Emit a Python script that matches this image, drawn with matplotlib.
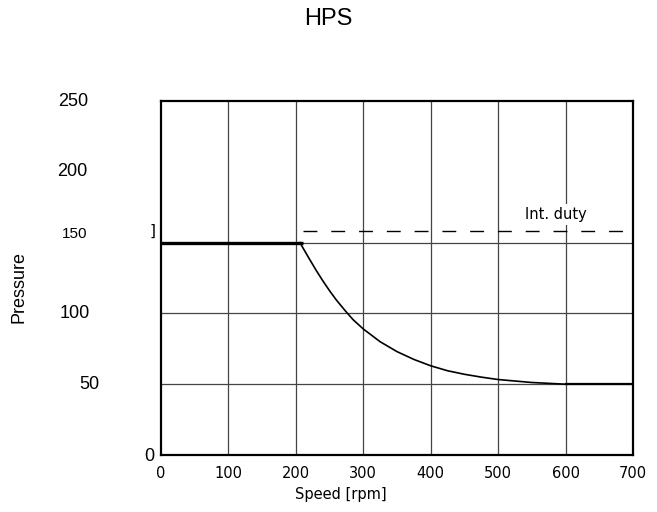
import matplotlib
matplotlib.use('Agg')
import matplotlib.pyplot as plt
import matplotlib.transforms as mtransforms

# data
speed_ticks = [0, 100, 200, 300, 400, 500, 600, 700]
pressure_ticks = [0, 50, 100, 150, 200, 250]
grid_pressure = [50, 100, 150]

max_speed = [0, 210]
max_pressure = [150, 150]

curve_speed = [206, 220, 230, 240, 250, 260, 273, 285, 300, 325, 350, 375, 400,
               425, 450, 475, 500, 550, 600]
curve_pressure = [150, 138.5, 130.5, 123, 116, 109.5, 102, 95.5, 89, 80, 73, 67.5, 63,
                  59.5, 57, 55, 53.3, 51.2, 50]

low_speed = [600, 700]
low_pressure = [50, 50]

int_duty_speed = [210, 700]
int_duty_pressure = [158, 158]

fig = plt.figure(figsize=(6.57, 5.12), dpi=100)
ax = fig.add_axes([161 / 657, 57 / 512, 472 / 657, 354 / 512])

# grid
for s in speed_ticks[1:-1]:
    ax.axvline(s, color='#444444', lw=0.9, zorder=1)
for p in grid_pressure:
    ax.axhline(p, color='#444444', lw=0.9, zorder=1)

# curves
ax.plot(max_speed, max_pressure, color='black', lw=2.4, solid_capstyle='butt', zorder=3)
ax.plot(curve_speed, curve_pressure, color='black', lw=1.2, zorder=3)
ax.plot(low_speed, low_pressure, color='black', lw=1.6, zorder=3)
ax.plot(int_duty_speed, int_duty_pressure, color='black', lw=1.0, dashes=(10, 10), zorder=2)

ax.text(585, 170, 'Int. duty', ha='center', va='center', fontsize=10.5,
        family='DejaVu Sans', zorder=4,
        bbox=dict(facecolor='white', edgecolor='none', pad=2))
ax.text(-13, 158, ']', ha='center', va='center', fontsize=11, clip_on=False)

ax.set_xlim(0, 700)
ax.set_ylim(0, 250)
for sp in ax.spines.values():
    sp.set_linewidth(1.6)
    sp.set_color('black')

ax.set_xticks(speed_ticks)
ax.set_xticklabels([str(s) for s in speed_ticks], family='DejaVu Sans', fontsize=10.5)
ax.tick_params(axis='x', length=0, pad=8)
ax.set_yticks([])

# y tick labels, placed as in the reference
ytrans = mtransforms.blended_transform_factory(ax.transAxes, ax.transData)
ylab_x = [-0.013, -0.131, -0.150, -0.155, -0.155, -0.155]
ylab_dy = [-1, 0, 0, 6, 0, 0]
ylab_size = [13, 13, 13, 11, 13, 13]
for p, xx, dy, fs in zip(pressure_ticks, ylab_x, ylab_dy, ylab_size):
    ax.text(xx, p + dy, str(p), transform=ytrans, ha='right', va='center',
            fontsize=fs, family='Liberation Sans', clip_on=False)

fig.text(19 / 657, 1 - 287 / 512, 'Pressure', rotation=90, ha='center', va='center',
         fontsize=13, family='Liberation Sans')
fig.text(341 / 657, 1 - 495 / 512, 'Speed [rpm]', ha='center', va='center',
         fontsize=10.5, family='DejaVu Sans')
fig.text(0.5, 1 - 19 / 512, 'HPS', ha='center', va='center', fontsize=17,
         family='Liberation Sans')

fig.savefig('out.png', dpi=100)
